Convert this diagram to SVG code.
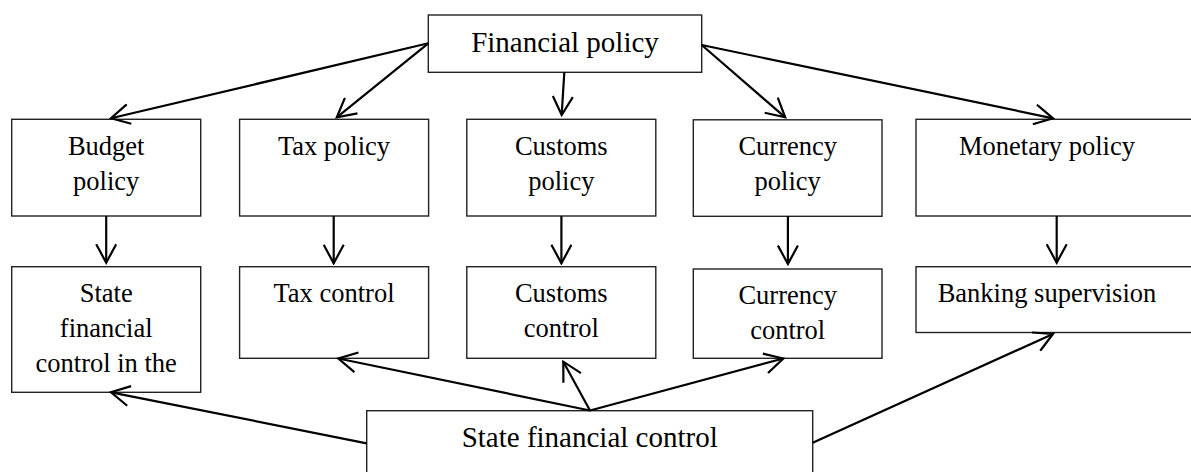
<svg xmlns="http://www.w3.org/2000/svg" width="1191" height="472" viewBox="0 0 1191 472">
<style>
.box{fill:#fff;stroke:#222;stroke-width:1.4}
.t{font-family:"Liberation Serif","Times New Roman",serif;font-size:26.5px;fill:#000;text-anchor:middle}
.big{font-size:29px}
.c{fill:none;stroke:#000;stroke-width:2.2;marker-end:url(#ah)}
</style>
<defs>
<marker id="ah" viewBox="0 0 22 22" refX="20" refY="11" markerWidth="22" markerHeight="22" markerUnits="userSpaceOnUse" orient="auto">
<path d="M1.5,1 L20,11 L1.5,21" fill="none" stroke="#000" stroke-width="2.2"/>
</marker>
</defs>
<rect width="1191" height="472" fill="#fff"/>
<g id="n-financial-policy"><rect class="box" x="428.3" y="15" width="273.4" height="57.3"/><text class="t big" x="565" y="51.7">Financial policy</text></g>
<g id="n-budget-policy"><rect class="box" x="11.7" y="119.3" width="189" height="96.7"/><text class="t" x="106.2" y="155">Budget</text><text class="t" x="106.2" y="189.5">policy</text></g>
<g id="n-tax-policy"><rect class="box" x="239.6" y="119.3" width="189" height="96.7"/><text class="t" x="334" y="155">Tax policy</text></g>
<g id="n-customs-policy"><rect class="box" x="466.8" y="119.3" width="189" height="96.7"/><text class="t" x="561.3" y="154.5">Customs</text><text class="t" x="561.3" y="189.5">policy</text></g>
<g id="n-currency-policy"><rect class="box" x="693.3" y="119.8" width="188.7" height="96.5"/><text class="t" x="787.7" y="155">Currency</text><text class="t" x="787.7" y="190">policy</text></g>
<g id="n-monetary-policy"><rect class="box" x="916" y="119.3" width="290" height="96.7"/><text class="t" x="1047" y="155">Monetary policy</text></g>
<g id="n-state-control-budget"><rect class="box" x="11.7" y="266.7" width="189" height="125.6"/><text class="t" x="106.2" y="301.7">State</text><text class="t" x="106.2" y="337">financial</text><text class="t" x="106.2" y="371.7">control in the</text></g>
<g id="n-tax-control"><rect class="box" x="239.6" y="266.7" width="189" height="91.6"/><text class="t" x="334" y="301.7">Tax control</text></g>
<g id="n-customs-control"><rect class="box" x="466.8" y="266.7" width="189" height="91.6"/><text class="t" x="561.3" y="301.7">Customs</text><text class="t" x="561.3" y="336.7">control</text></g>
<g id="n-currency-control"><rect class="box" x="693.3" y="269" width="188.7" height="89.3"/><text class="t" x="787.7" y="304">Currency</text><text class="t" x="787.7" y="339">control</text></g>
<g id="n-banking-supervision"><rect class="box" x="916" y="266.7" width="290" height="65.8"/><text class="t" x="1047" y="301.7">Banking supervision</text></g>
<g id="n-state-financial-control"><rect class="box" x="366.7" y="410.7" width="446" height="80"/><text class="t big" x="589.7" y="446.7">State financial control</text></g>
<g id="connectors">
<line class="c" x1="428.3" y1="43.3" x2="111" y2="118.3"/>
<line class="c" x1="428.3" y1="43.3" x2="336.8" y2="117.3"/>
<line class="c" x1="564.3" y1="72.3" x2="561.7" y2="115"/>
<line class="c" x1="701.7" y1="45" x2="785.2" y2="117.3"/>
<line class="c" x1="701.7" y1="45" x2="1053" y2="118.3"/>
<line class="c" x1="106.2" y1="216" x2="106.2" y2="262.7"/>
<line class="c" x1="333.7" y1="216" x2="333.7" y2="263.3"/>
<line class="c" x1="561.4" y1="216" x2="561.4" y2="263.3"/>
<line class="c" x1="787.9" y1="216.3" x2="787.9" y2="264"/>
<line class="c" x1="1056.7" y1="216" x2="1056.7" y2="262.7"/>
<line class="c" x1="366.7" y1="443.3" x2="111" y2="392.3"/>
<line class="c" x1="590" y1="410.5" x2="338.3" y2="358.5"/>
<line class="c" x1="590" y1="410.5" x2="563.3" y2="361.7"/>
<line class="c" x1="590" y1="410.5" x2="783.3" y2="358.5"/>
<line class="c" x1="812.7" y1="442.7" x2="1053" y2="334"/>
</g>
</svg>
